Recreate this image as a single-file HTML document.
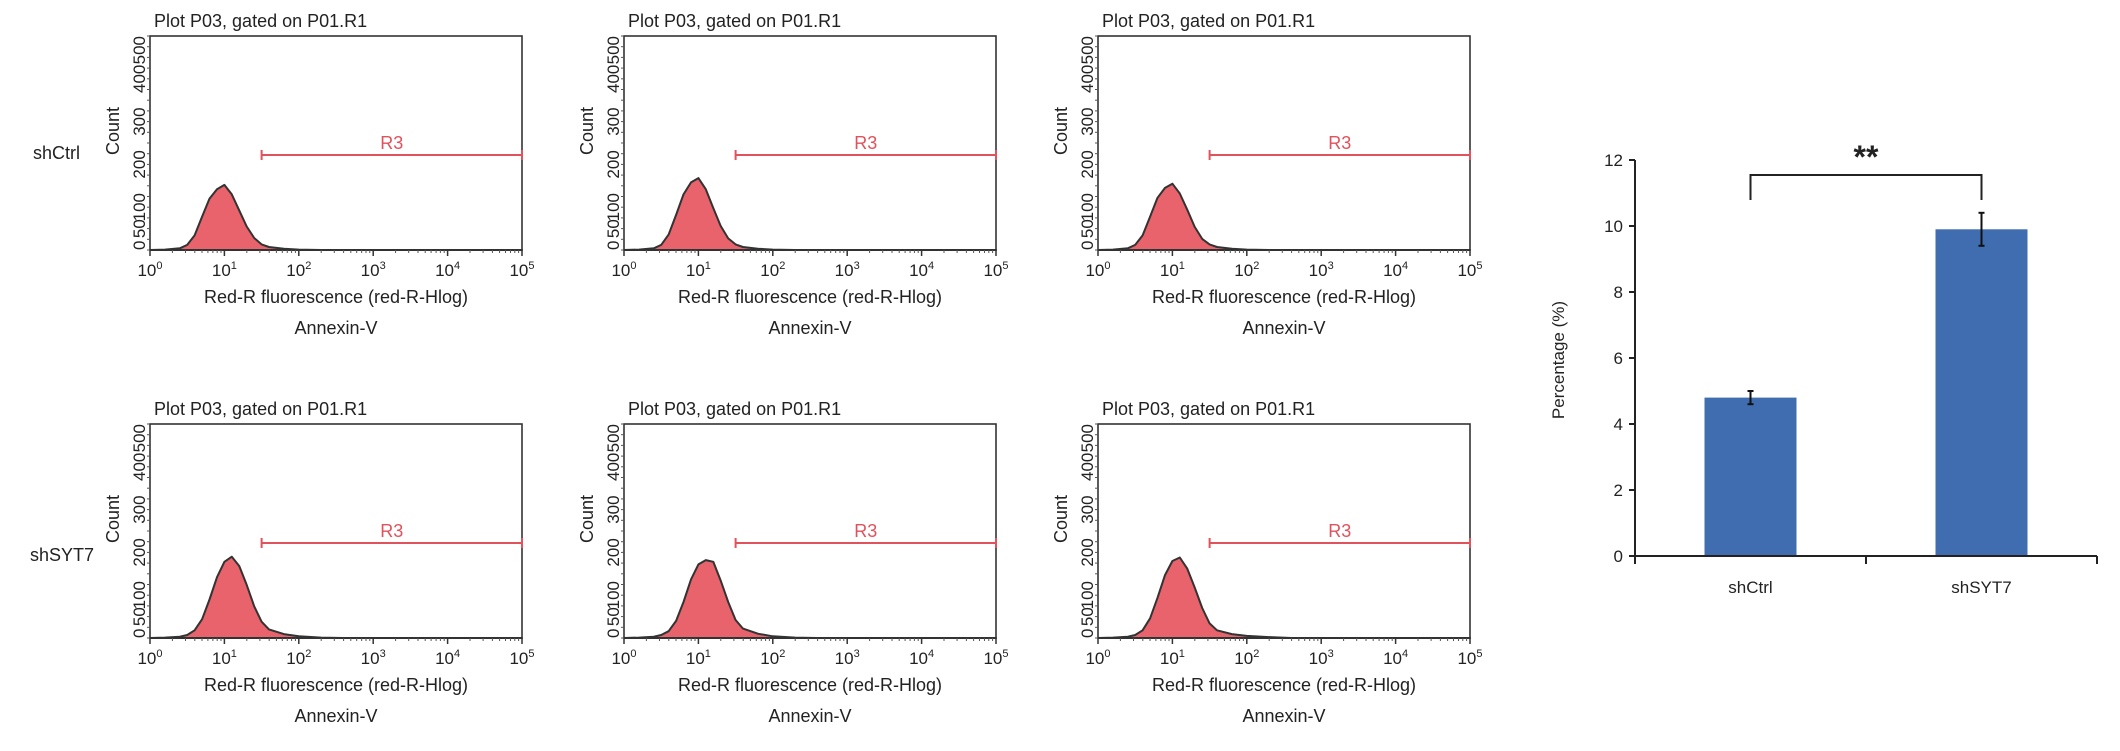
<!DOCTYPE html>
<html><head><meta charset="utf-8">
<style>
html,body{margin:0;padding:0;background:#fff;}
svg{display:block;font-family:"Liberation Sans",Arial,sans-serif;}
</style></head>
<body>
<svg id="fig" width="2120" height="751" viewBox="0 0 2120 751" xmlns="http://www.w3.org/2000/svg">
<text x="33" y="159" font-size="18" fill="#222">shCtrl</text>
<text x="30" y="561" font-size="18" fill="#222">shSYT7</text>
</svg>
<script>
// Histogram data (log10 fluorescence grid, counts per panel)
const logGrid = [0,0.2,0.4,0.5,0.6,0.7,0.8,0.9,1.0,1.1,1.2,1.3,1.4,1.5,1.6,1.8,2.0,2.3,2.6,3,4,5];
const countsP1 = [0,1,4,12,34,78,120,142,152,130,92,55,28,13,7,3,1,0,0,0,0,0];
const countsP2 = [0,1,4,12,36,82,130,158,168,142,98,56,27,13,7,3,1,0,0,0,0,0];
const countsP3 = [0,1,4,12,34,78,122,145,155,132,94,54,26,13,7,3,1,0,0,0,0,0];
const countsP4 = [0,1,3,7,18,44,90,142,178,190,168,124,74,38,20,9,4,1,0,0,0,0];
const countsP5 = [0,1,3,7,16,40,84,137,172,182,178,134,84,42,22,10,4,1,0,0,0,0];
const countsP6 = [0,1,3,7,18,46,94,147,180,188,162,118,70,34,18,9,5,2,0,0,0,0];
const yTicks = [0,50,100,200,300,400,500];
const xTickExps = [0,1,2,3,4,5];
const gateStartLog = 1.5;
const gateCount = 222;
// Bar chart data
const barCategories = ["shCtrl","shSYT7"];
const barValues = [4.8,9.9];
const barErrors = [0.2,0.5];
const barYTicks = [0,2,4,6,8,10,12];

const NS="http://www.w3.org/2000/svg";
const svg=document.getElementById('fig');
function mk(tag,attrs,parent){const e=document.createElementNS(NS,tag);for(const k in attrs)e.setAttribute(k,attrs[k]);(parent||svg).appendChild(e);return e;}

const panels=[
 {left:150,top:36,counts:countsP1},{left:624,top:36,counts:countsP2},{left:1098,top:36,counts:countsP3},
 {left:150,top:424,counts:countsP4},{left:624,top:424,counts:countsP5},{left:1098,top:424,counts:countsP6}];
const PW=372, PH=214;

panels.forEach((p,i)=>{
  const g=mk('g',{});
  
  
  const xS=v=>p.left+v/5*PW;
  const yS=c=>p.top+PH-c/500*PH;
  const t=mk('text',{x:p.left+4,y:p.top-9,'font-size':18,fill:'#222'},g);
  t.textContent='Plot P03, gated on P01.R1';
  
  
  let d='M'+xS(logGrid[0])+','+yS(0);
  logGrid.forEach((v,j)=>{d+=' L'+xS(v).toFixed(1)+','+yS(p.counts[j]).toFixed(1);});
  d+=' L'+xS(5)+','+yS(0)+' Z';
  const h=mk('path',{d:d,fill:'#e8636b',stroke:'#333','stroke-width':2,'stroke-linejoin':'round'},g);
  
  
  const b=mk('rect',{x:p.left,y:p.top,width:PW,height:PH,fill:'none',stroke:'#333','stroke-width':1.6},g);
  
  
  xTickExps.forEach(e=>{
    mk('line',{x1:xS(e),x2:xS(e),y1:p.top+PH,y2:p.top+PH+6,stroke:'#333','stroke-width':1.5},g);
    if(e<5)for(let m=2;m<10;m++){const x=xS(e+Math.log10(m));mk('line',{x1:x,x2:x,y1:p.top+PH,y2:p.top+PH+3,stroke:'#555','stroke-width':1},g);}
    const tl=mk('text',{x:xS(e),y:p.top+PH+26,'font-size':17,fill:'#222','text-anchor':'middle'},g);
    tl.innerHTML='10<tspan dy="-7" font-size="11">'+e+'</tspan>';
    
    
  });
  for(let c=0;c<=500;c+=25){mk('line',{x1:p.left-3,x2:p.left,y1:yS(c),y2:yS(c),stroke:'#555','stroke-width':1},g);}
  yTicks.forEach(c=>{
    const y=yS(c);
    const tl=mk('text',{x:p.left-5,y:y,'font-size':17,fill:'#222','text-anchor':c===0?'start':(c===500?'end':'middle'),transform:'rotate(-90 '+(p.left-5)+' '+y+')'},g);
    tl.textContent=c;
    
    
  });
  const yt=mk('text',{x:p.left-31,y:p.top+PH/2-12,'font-size':18,fill:'#222','text-anchor':'middle',transform:'rotate(-90 '+(p.left-31)+' '+(p.top+PH/2-12)+')'},g);
  yt.textContent='Count';
  
  
  const gy=yS(gateCount);
  const gl=mk('g',{},g);
  
  
  mk('line',{x1:xS(gateStartLog),x2:xS(5),y1:gy,y2:gy,stroke:'#e0525c','stroke-width':2},gl);
  mk('line',{x1:xS(gateStartLog),x2:xS(gateStartLog),y1:gy-5,y2:gy+5,stroke:'#e0525c','stroke-width':2},gl);
  mk('line',{x1:xS(5),x2:xS(5),y1:gy-5,y2:gy+5,stroke:'#e0525c','stroke-width':2},gl);
  const gt=mk('text',{x:(xS(gateStartLog)+xS(5))/2,y:gy-6,'font-size':18,fill:'#e0525c','text-anchor':'middle'},gl);
  gt.textContent='R3';
  const xt=mk('text',{x:p.left+PW/2,y:p.top+PH+53,'font-size':18,fill:'#222','text-anchor':'middle'},g);
  xt.textContent='Red-R fluorescence (red-R-Hlog)';
  
  
  const an=mk('text',{x:p.left+PW/2,y:p.top+PH+84,'font-size':18,fill:'#222','text-anchor':'middle'},g);
  an.textContent='Annexin-V';
  
  
});

const bc=mk('g',{});


const AX=1635, Y0=556, Y12=160, XR=2097;
const by=v=>Y0-(v/12)*(Y0-Y12);
const catW=(XR-AX)/barCategories.length;
const bx=i=>AX+catW*(i+0.5);
const BW=92;
barCategories.forEach((c,i)=>{
  const r=mk('rect',{x:bx(i)-BW/2,y:by(barValues[i]),width:BW,height:Y0-by(barValues[i]),fill:'#3f6db0'},bc);
  
  
  const e=mk('g',{stroke:'#111','stroke-width':2},bc);
  
  
  const t=by(barValues[i]+barErrors[i]), b=by(barValues[i]-barErrors[i]);
  mk('line',{x1:bx(i),x2:bx(i),y1:t,y2:b},e);
  mk('line',{x1:bx(i)-3,x2:bx(i)+3,y1:t,y2:t},e);
  mk('line',{x1:bx(i)-3,x2:bx(i)+3,y1:b,y2:b},e);
  const l=mk('text',{x:bx(i),y:Y0+37,'font-size':17,fill:'#222','text-anchor':'middle'},bc);
  l.textContent=c;
  
  
});
mk('line',{x1:AX,x2:AX,y1:Y12,y2:Y0+8,stroke:'#222','stroke-width':2},bc);
mk('line',{x1:AX-6,x2:XR,y1:Y0,y2:Y0,stroke:'#222','stroke-width':2},bc);
[AX,AX+catW,XR].forEach(x=>mk('line',{x1:x,x2:x,y1:Y0,y2:Y0+8,stroke:'#222','stroke-width':2},bc));
barYTicks.forEach(v=>{
  mk('line',{x1:AX-6,x2:AX,y1:by(v),y2:by(v),stroke:'#222','stroke-width':2},bc);
  const tl=mk('text',{x:AX-12,y:by(v)+6,'font-size':17,fill:'#222','text-anchor':'end'},bc);
  tl.textContent=v;
  
  
});
const byt=mk('text',{x:1564,y:360,'font-size':17,fill:'#222','text-anchor':'middle',transform:'rotate(-90 1564 360)'},bc);
byt.textContent='Percentage (%)';


const br=mk('path',{d:'M'+bx(0)+',200 L'+bx(0)+',175 L'+bx(1)+',175 L'+bx(1)+',200',fill:'none',stroke:'#222','stroke-width':2},bc);


const st=mk('text',{x:(bx(0)+bx(1))/2,y:168,'font-size':32,'font-weight':'bold',fill:'#222','text-anchor':'middle'},bc);
st.textContent='**';


</script>
</body></html>
